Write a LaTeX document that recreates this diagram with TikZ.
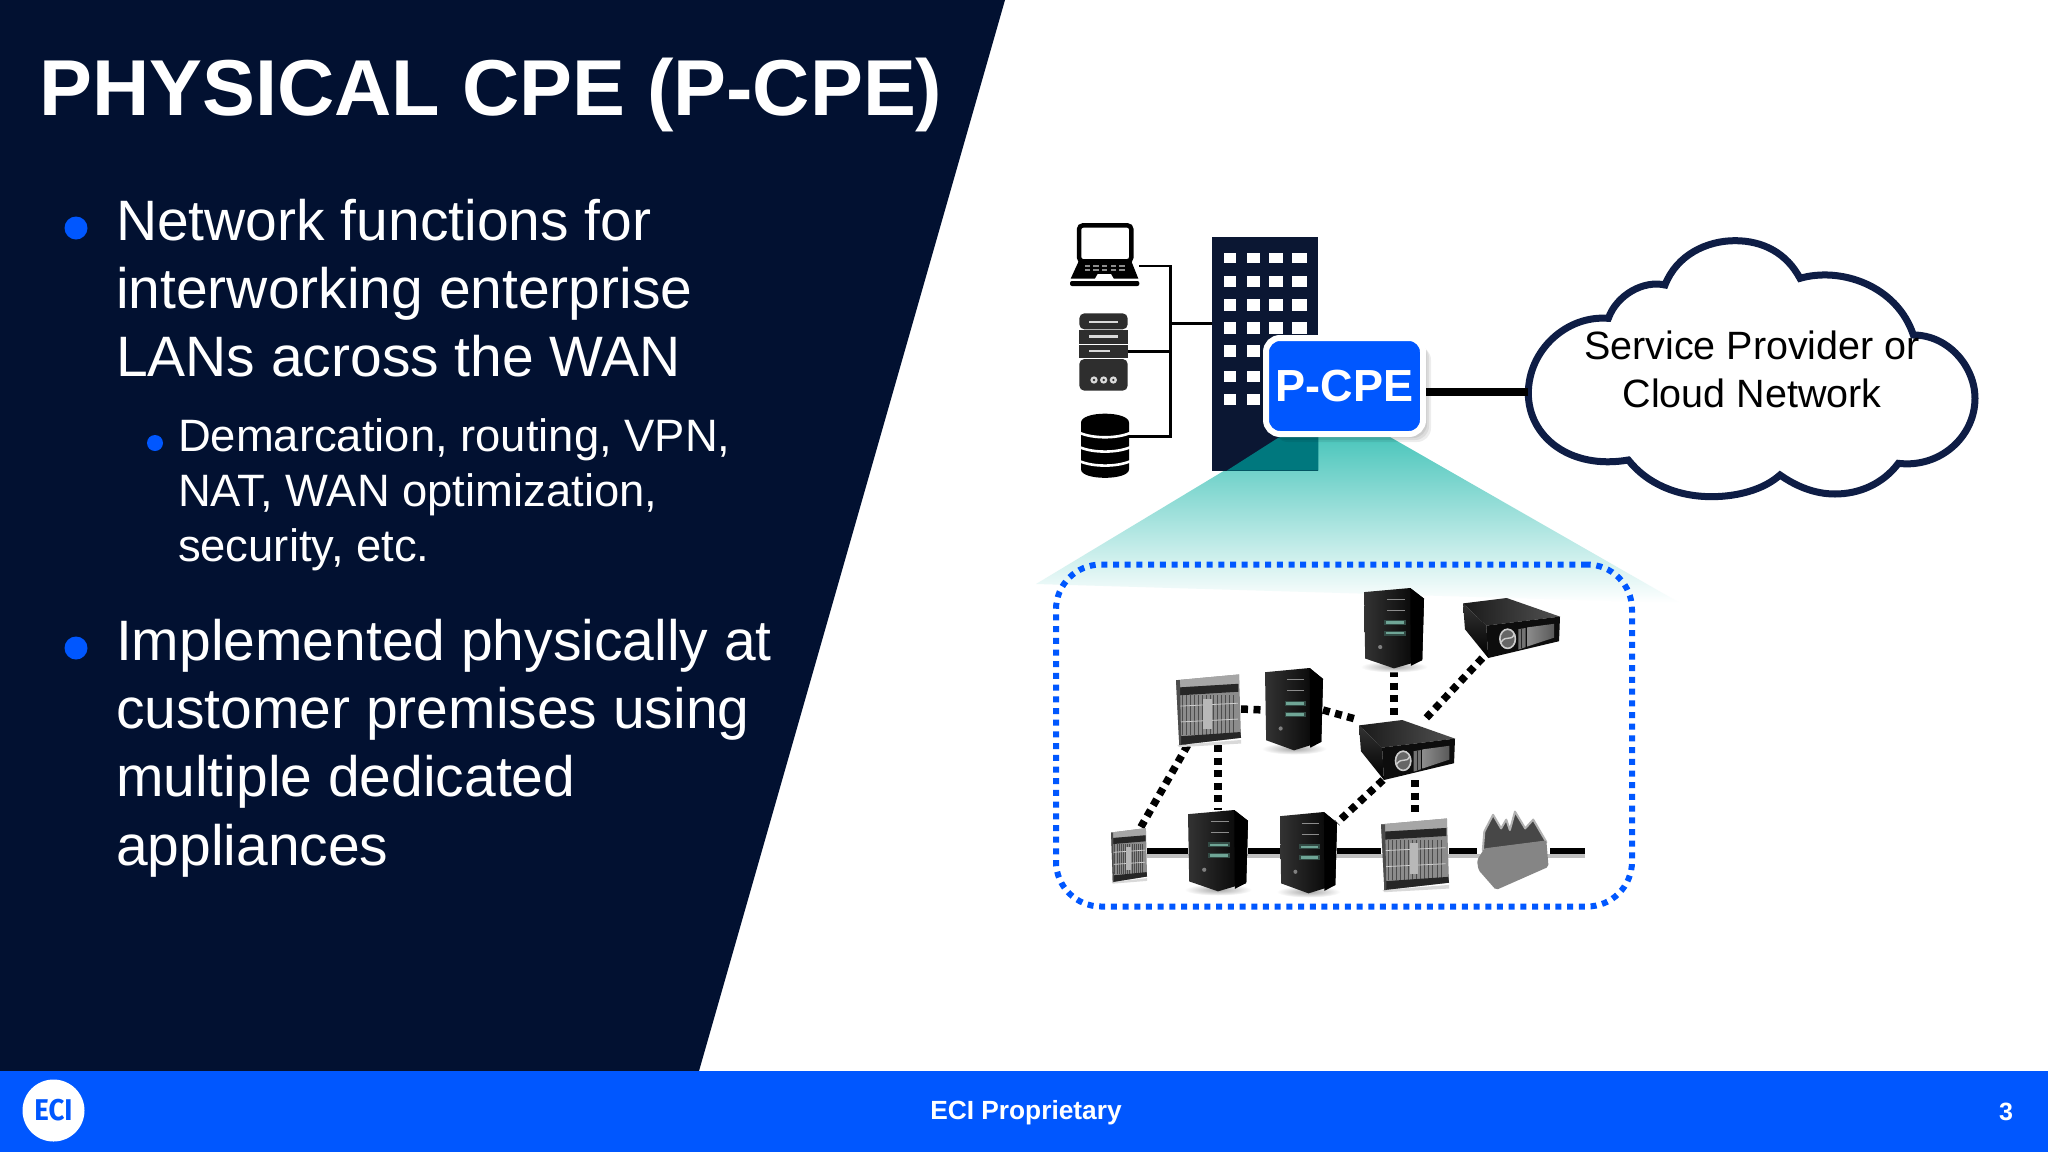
\documentclass[tikz,border=0pt]{standalone}
\usepackage{fontspec}
\setmainfont{Liberation Sans}
\newfontfamily\ecifont{Fira Sans}
\usetikzlibrary{calc}
\definecolor{navy}{HTML}{021131}
\definecolor{ecib}{HTML}{0057FF}
\definecolor{bld}{HTML}{0B1733}
\definecolor{cloudl}{HTML}{0E1D45}
\definecolor{tealtop}{HTML}{4CC6BC}
\definecolor{tealdk}{HTML}{00787E}
\definecolor{glow}{HTML}{6FA596}
\definecolor{srvc}{HTML}{2E2E2E}
\tikzset{
  devnode/.style={inner sep=0pt,outer sep=0pt},
  iconnode/.style={inner sep=0pt,outer sep=0pt},
  para/.style={anchor=north west,inner sep=0pt,outer sep=0pt,align=left,text=white},
  bigtxt/.style={font=\fontsize{57}{68.3}\selectfont},
  subtxt/.style={font=\fontsize{45.4}{54.6}\selectfont},
  bullet/.style={circle,fill=ecib,inner sep=0pt,outer sep=0pt},
  busline/.style={line width=2.5pt,black},
  solidlink/.style={line width=6.5pt,black},
  dashlink/.style={line width=7.5pt,black,dash pattern=on 7pt off 5.5pt},
  cpebox/.style={rounded corners=14pt,draw=white,line width=6pt,fill=ecib,text=white,
     minimum width=157pt,minimum height=96pt,inner sep=0pt,outer sep=3pt,
     font=\fontsize{45}{50}\bfseries\selectfont},
  zonebox/.style={draw=ecib,line width=6pt,rounded corners=45pt,dash pattern=on 6pt off 5.7pt,
     minimum width=576pt,minimum height=342pt,inner sep=0pt},
}
\newcommand{\devplace}[5]{\node[devnode,minimum width=#4pt,minimum height=#5pt] (#1) at ({#2+#4/2},{#3+#5/2}) {};}
\newcommand{\towerdev}[3]{%
 \begin{scope}[shift={(#1.north west)},x=#2pt,y=-#3pt]
  \shade[inner color=black!35,outer color=white] (0.5,0.96) ellipse (0.56 and 0.07);
  \shade[left color=black!80,right color=black,line join=round]
     (0,0.05) -- (0.77,0) -- (1,0.13) -- (0.97,0.88) -- (0.5,0.98) -- (0.02,0.86) -- cycle;
  \fill[black] (0.77,0) -- (1,0.13) -- (0.97,0.88) -- (0.78,0.95) -- cycle;
  \draw[black!45,line width=1.2pt] (0.38,0.14) -- (0.68,0.14) (0.38,0.27) -- (0.68,0.27);
  \draw[glow!45!black,line width=5pt] (0.34,0.42) -- (0.70,0.42) (0.34,0.55) -- (0.70,0.55);
  \draw[glow,line width=2.6pt] (0.37,0.42) -- (0.67,0.42) (0.37,0.55) -- (0.67,0.55);
  \fill[black!50] (0.27,0.72) circle (0.035 and 0.025);
 \end{scope}}
\newcommand{\boxdev}[3]{%
 \begin{scope}[shift={(#1.north west)},x=#2pt,y=-#3pt]
  \shade[left color=black!90,right color=black!68] (0,0.09) -- (0.45,0) -- (1,0.31) -- (0.24,0.46) -- cycle;
  \shade[top color=black!80,bottom color=black] (0,0.09) -- (0.24,0.46) -- (0.26,1) -- (0.02,0.52) -- cycle;
  \fill[black!95] (0.24,0.46) -- (1,0.31) -- (0.99,0.72) -- (0.26,1) -- cycle;
  \shade[left color=black!45,right color=black!65] (0.66,0.49) -- (0.94,0.43) -- (0.94,0.66) -- (0.66,0.81) -- cycle;
  \fill[black!55] (0.57,0.52) -- (0.645,0.50) -- (0.645,0.82) -- (0.57,0.86) -- cycle;
  \draw[black!85,line width=.8pt] (0.605,0.51) -- (0.605,0.84);
  \fill[black!60] (0.46,0.68) circle (0.085 and 0.17);
  \draw[white!80!black,line width=1.6pt] (0.46,0.68) circle (0.08 and 0.16);
  \draw[white!80!black,line width=1.4pt] (0.39,0.74) .. controls (0.45,0.60) and (0.49,0.74) .. (0.53,0.60);
 \end{scope}}
\newcommand{\chassisdev}[3]{%
 \begin{scope}[shift={(#1.north west)},x=#2pt,y=-#3pt]
  \fill[black!15] (0.02,1) -- (1,0.93) -- (1,0.98) -- (0.05,1.03) -- cycle;
  \fill[black!45] (0,0.1) -- (0.97,0.02) -- (1,0.9) -- (0.05,1) -- cycle;
  \fill[black!35] (0,0.1) -- (0.97,0.02) -- (0.97,0.15) -- (0,0.2) -- cycle;
  \fill[black!85] (0.05,0.2) -- (0.96,0.15) -- (0.96,0.26) -- (0.05,0.31) -- cycle;
  \foreach \u in {0.1,0.16,...,0.9}{\draw[black!70,line width=.5pt] (\u,0.31) -- (\u,0.86);}
  \draw[black!20,line width=.8pt] (0.06,0.46) -- (0.95,0.42) (0.06,0.68) -- (0.95,0.64);
  \fill[black!28] (0.42,0.36) rectangle (0.55,0.78);
  \fill[black!85] (0.05,0.88) -- (0.99,0.82) -- (1,0.9) -- (0.05,1) -- cycle;
  \fill[black!70] (0,0.1) -- (0.06,0.1) -- (0.08,1) -- (0.05,1) -- cycle;
 \end{scope}}
\newcommand{\firedev}[3]{%
 \begin{scope}[shift={(#1.north west)},x=#2pt,y=-#3pt]
  \draw[black!30,fill=black!72,line width=2pt,line join=round]
    (0.08,0.5) -- (0.10,0.27) -- (0.22,0.06) -- (0.33,0.23) -- (0.40,0.12) -- (0.45,0.25) -- (0.52,0.02) -- (0.66,0.23) -- (0.77,0.12) -- (0.95,0.40) -- cycle;
  \fill[black!48,rounded corners=2pt] (0,0.63) -- (0.1,0.48) -- (0.95,0.38) -- (0.98,0.71) -- (0.26,1) -- (0.02,0.75) -- cycle;
 \end{scope}}
\begin{document}
\begin{tikzpicture}[x=1pt,y=-1pt]
\useasboundingbox (0,0) rectangle (2048,1152);
\fill[white] (0,0) rectangle (2048,1152);
% panels
\fill[navy] (0,0) -- (1005,0) -- (699,1071) -- (0,1071) -- cycle;
\fill[ecib] (0,1071) rectangle (2048,1152);
% title and text
\node[anchor=base west,inner sep=0pt,text=white,font=\fontsize{79.3}{90}\bfseries\selectfont] (title) at (39,115.5) {PHYSICAL CPE (P-CPE)};
\node[bullet,minimum size=23pt] (b1) at (76,228) {};
\node[para,bigtxt] (t1) at (116,199) {Network functions for\\interworking enterprise\\LANs across the WAN};
\node[bullet,minimum size=16pt] (b2) at (155,443) {};
\node[para,subtxt] (t2) at (178,419) {Demarcation, routing, VPN,\\NAT, WAN optimization,\\security, etc.};
\node[bullet,minimum size=23pt] (b3) at (76,648) {};
\node[para,bigtxt] (t3) at (116,619) {Implemented physically at\\customer premises using\\multiple dedicated\\appliances};
% footer
\node[circle,fill=white,minimum size=62pt,inner sep=0pt] (logo) at (53.5,1110.5) {};
\node[text=ecib,inner sep=0pt,font=\ecifont\fontsize{30}{32}\bfseries\selectfont,xscale=.92] (ecitxt) at (53.5,1110.5) {ECI};
\node[text=white,inner sep=0pt,font=\fontsize{26.3}{30}\bfseries\selectfont] (foot) at (1026,1112.5) {ECI Proprietary};
\node[text=white,inner sep=0pt,font=\fontsize{25}{30}\bfseries\selectfont] (page) at (2006,1112) {3};
% teal projection
\shade[top color=tealtop,bottom color=white] (1280,437) -- (1390,437) -- (1680,603) -- (1036,584) -- cycle;
% building
\node[fill=bld,minimum width=106pt,minimum height=234pt,inner sep=0pt,outer sep=0pt] (bldg) at (1265,354) {};
\begin{scope}[shift={(1030,200)},x=0.33333pt,y=-0.33333pt]
 \foreach \ya/\yb in {158/188,228/262,298/333,367/402,436/470,512/547,582/615}{
  \foreach \xa/\xb in {581/619,651/689,718/760,786/830}{
   \fill[white] (\xa,\ya) rectangle (\xb,\yb);
  }}
 \fill[tealdk] (750,710) -- (865,710) -- (865,812) -- (590,812) -- cycle;
\end{scope}
% left icon placeholders
\node[iconnode,minimum width=69pt,minimum height=63pt] (laptop) at (1104.5,254.5) {};
\node[iconnode,minimum width=49pt,minimum height=78pt] (srv) at (1103.5,352) {};
\node[iconnode,minimum width=48pt,minimum height=63pt] (db) at (1105,445.5) {};
\coordinate (busT) at (1170.7,266);
\coordinate (busM) at (1170.7,323.3);
\coordinate (busS) at (1170.7,351.7);
\coordinate (busB) at (1170.7,436.7);
\draw[busline] (laptop.east |- busT) -- (busT) -- (busB) -- (db.east |- busB);
\draw[busline] (srv.east |- busS) -- (busS);
\draw[busline] (busM) -- (bldg.west |- busM);
% laptop, server and database icons
\begin{scope}[shift={(1030,200)},x=0.33333pt,y=-0.33333pt]
 \draw[black,line width=4.5pt,rounded corners=4pt,fill=white] (147,76) rectangle (304,184);
 \fill[black] (145,186) -- (305,186) -- (325,236) -- (122,236) -- cycle;
 \foreach \u in {172,198,224,250,276}{
   \fill[black!45] (\u-8,196) rectangle (\u+8,201);
   \fill[black!45] (\u-8,208) rectangle (\u+8,213);}
 \fill[white] (203,222) -- (243,222) -- (252,238) -- (194,238) -- cycle;
 \fill[black,rounded corners=2pt] (120,243) rectangle (328,258);
 \fill[srvc,rounded corners=5pt] (148,340) rectangle (293,388);
 \fill[srvc] (148,391) rectangle (293,433);
 \fill[srvc] (148,436) rectangle (293,474);
 \fill[srvc,rounded corners=5pt] (148,477) rectangle (293,572);
 \fill[black!15] (178,362) rectangle (265,369);
 \fill[black!15] (178,406) rectangle (265,413);
 \fill[black!15] (178,449) rectangle (240,456);
 \foreach \u in {192,221,250}{
   \fill[black!15] (\u,540) circle (11);
   \fill[srvc] (\u,540) circle (4);}
 \fill[black] (153,668) .. controls (153,632) and (297,632) .. (297,668) -- (297,808) .. controls (297,842) and (153,842) .. (153,808) -- cycle;
 \draw[white,line width=2.6pt] (150,699) .. controls (190,716) and (260,716) .. (300,699);
 \draw[white,line width=2.6pt] (150,742) .. controls (190,759) and (260,759) .. (300,742);
 \draw[white,line width=2.6pt] (150,784) .. controls (190,801) and (260,801) .. (300,784);
\end{scope}
% zone
\node[zonebox] (zone) at (1344,735.5) {};
% devices
\devplace{A}{1364}{588}{60}{82}
\devplace{B}{1463}{598}{97}{60}
\devplace{C}{1176}{673}{65}{72}
\devplace{D}{1265}{668}{58}{84}
\devplace{E}{1359}{720}{96}{60}
\devplace{F}{1111}{827}{36}{55}
\devplace{G}{1188}{810}{60}{83}
\devplace{H}{1280}{812}{57}{83}
\devplace{I}{1381}{817}{68}{73}
\devplace{J}{1477}{810}{73}{80}
\coordinate (lineend) at (1585,851);
\coordinate (lineshade) at (1585,856);
\draw[line width=4pt,black!25] (F.east |- lineshade) -- (lineshade);
\draw[solidlink] (F.east |- lineend) -- (G.west |- lineend);
\draw[solidlink] (G.east |- lineend) -- (H.west |- lineend);
\draw[solidlink] (H.east |- lineend) -- (I.west |- lineend);
\draw[solidlink] (I.east |- lineend) -- (J.west |- lineend);
\draw[solidlink] (J.east |- lineend) -- (lineend);
\draw[dashlink] (C.east) -- (D.west);
\draw[dashlink] (D.east) -- (E.north west);
\draw[dashlink] (A.south) -- (A.south |- E.north);
\draw[dashlink] ($(B.south west)!0.2!(B.south east)$) -- ($(E.north west)!0.68!(E.north east)$);
\draw[dashlink] ($(C.south west)!0.18!(C.south east)$) -- ($(F.north west)!0.83!(F.north east)$);
\draw[dashlink] (G.north |- C.south) -- (G.north);
\draw[dashlink] ($(E.south west)!0.25!(E.south east)$) -- ($(H.north east)!0.13!(H.south east)$);
\draw[dashlink] (I.north |- E.south) -- (I.north);
\towerdev{A}{60}{82}
\boxdev{B}{97}{60}
\chassisdev{C}{65}{72}
\towerdev{D}{58}{84}
\boxdev{E}{96}{60}
\chassisdev{F}{36}{55}
\towerdev{G}{60}{83}
\towerdev{H}{57}{83}
\chassisdev{I}{68}{73}
\firedev{J}{73}{80}
% cloud
\coordinate (cloudport) at (1528,392);
\begin{scope}[shift={(1500,220)},x=0.33333pt,y=-0.33333pt]
 \draw[cloudl,line width=7pt,fill=white,line join=miter]
  (325,295) .. controls (350,225) and (430,180) .. (495,195)
  .. controls (530,105) and (620,62) .. (705,62)
  .. controls (790,62) and (860,100) .. (900,175)
  .. controls (1020,140) and (1190,195) .. (1240,345)
  .. controls (1345,345) and (1425,440) .. (1425,535)
  .. controls (1425,650) and (1320,745) .. (1195,730)
  .. controls (1150,790) and (1080,822) .. (1005,822)
  .. controls (945,822) and (890,800) .. (840,765)
  .. controls (790,810) and (710,830) .. (635,830)
  .. controls (530,830) and (440,790) .. (385,720)
  .. controls (210,750) and (85,650) .. (85,520)
  .. controls (85,390) and (200,285) .. (325,295) -- cycle;
\end{scope}
\node[anchor=north,inner sep=0pt,align=center,text=black,font=\fontsize{39.5}{48}\selectfont] (cloudtxt) at (1752,331) {Service Provider or\\Cloud Network};
% P-CPE soft shadow
\foreach \s in {0,2,4,6,8}{
  \fill[black,opacity=.07,rounded corners=14pt] (1266+\s,338+\s) rectangle (1423+\s,434+\s);
}
\node[cpebox] (pcpe) at (1344.5,386) {\raisebox{-1.5pt}{P-CPE}};
\draw[line width=8pt,black] (pcpe.east |- cloudport) -- (cloudport);
\end{tikzpicture}
\end{document}
